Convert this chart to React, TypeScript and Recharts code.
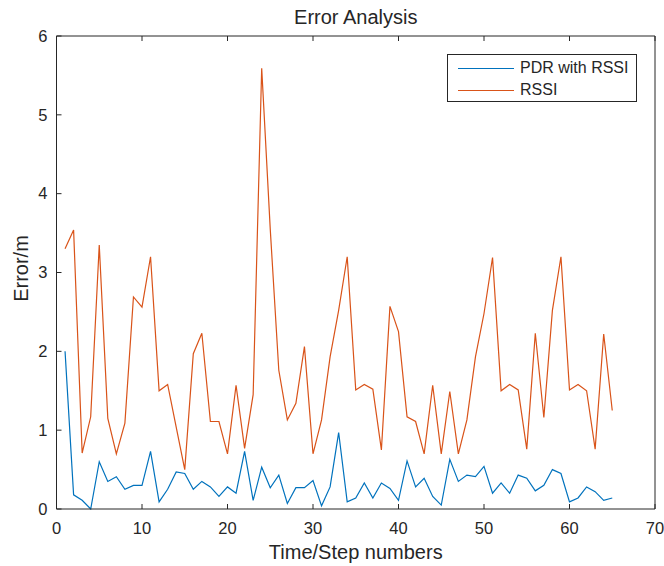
import React from 'react';
import { LineChart, Line, XAxis, YAxis, Legend } from 'recharts';

const steps = Array.from({ length: 65 }, (_, i) => i + 1);

const pdrError = [
  2.0, 0.18, 0.11, 0.0, 0.6, 0.35, 0.41, 0.25, 0.3, 0.3,
  0.73, 0.09, 0.25, 0.47, 0.45, 0.25, 0.35, 0.28, 0.16, 0.28,
  0.2, 0.73, 0.11, 0.53, 0.27, 0.43, 0.07, 0.27, 0.27, 0.36,
  0.04, 0.28, 0.97, 0.09, 0.14, 0.33, 0.14, 0.33, 0.26, 0.11,
  0.61, 0.28, 0.39, 0.16, 0.05, 0.63, 0.35, 0.43, 0.41, 0.54,
  0.2, 0.33, 0.2, 0.43, 0.39, 0.23, 0.3, 0.5, 0.45, 0.09,
  0.14, 0.28, 0.22, 0.11, 0.14,
];

const rssiError = [
  3.3, 3.54, 0.71, 1.17, 3.35, 1.15, 0.7, 1.09, 2.69, 2.56,
  3.2, 1.5, 1.58, 1.04, 0.5, 1.97, 2.23, 1.11, 1.11, 0.7,
  1.57, 0.77, 1.45, 5.59, 3.55, 1.76, 1.13, 1.34, 2.06, 0.7,
  1.13, 1.93, 2.52, 3.2, 1.51, 1.58, 1.52, 0.75, 2.57, 2.25,
  1.17, 1.11, 0.7, 1.57, 0.7, 1.49, 0.7, 1.13, 1.93, 2.48,
  3.19, 1.5, 1.58, 1.51, 0.76, 2.23, 1.16, 2.52, 3.2, 1.51,
  1.58, 1.5, 0.76, 2.22, 1.25,
];

const xTicks = [0, 10, 20, 30, 40, 50, 60, 70];
const yTicks = [0, 1, 2, 3, 4, 5, 6];

const data = steps.map((s, i) => ({ step: s, pdr: pdrError[i], rssi: rssiError[i] }));

const INK = '#262626';
const FONT = '"Liberation Sans", Arial, Helvetica, sans-serif';
const TICK_LEN = 5;

// matlab style: ticks point into the plot box
const BottomTick = (props: any) => {
  const { x, y, payload } = props;
  return (
    <g>
      <line x1={x} x2={x} y1={y} y2={y - TICK_LEN} stroke={INK} />
      <text x={x} y={y + 25} textAnchor="middle" fill={INK} fontSize={16.5} fontFamily={FONT}>
        {payload.value}
      </text>
    </g>
  );
};

const TopTick = (props: any) => {
  const { x, y } = props;
  return <line x1={x} x2={x} y1={y} y2={y + TICK_LEN} stroke={INK} />;
};

const LeftTick = (props: any) => {
  const { x, y, payload } = props;
  return (
    <g>
      <line x1={x} x2={x + TICK_LEN} y1={y} y2={y} stroke={INK} />
      <text x={x - 9} y={y} dy="0.35em" textAnchor="end" fill={INK} fontSize={16.5} fontFamily={FONT}>
        {payload.value}
      </text>
    </g>
  );
};

const RightTick = (props: any) => {
  const { x, y } = props;
  return <line x1={x} x2={x - TICK_LEN} y1={y} y2={y} stroke={INK} />;
};

const LegendBox = (props: any) => {
  const items = props.payload || [];
  return (
    <div
      style={{
        width: 190,
        height: 48,
        boxSizing: 'border-box',
        border: `1px solid ${INK}`,
        background: '#fff',
        paddingTop: 2,
        fontFamily: FONT,
        fontSize: 16,
        color: INK,
      }}
    >
      {items.map((it: any) => (
        <div key={it.value} style={{ display: 'flex', alignItems: 'center', height: 22 }}>
          <span style={{ display: 'inline-block', width: 56, height: 0, borderTop: `1.2px solid ${it.color}`, marginLeft: 10, marginRight: 6 }} />
          <span>{it.value}</span>
        </div>
      ))}
    </div>
  );
};

export default function App() {
  return (
    <div style={{ position: 'absolute', left: 0, top: 0, width: 664, height: 566, background: '#fff' }}>
      <LineChart width={664} height={566} data={data} margin={{ top: 35, right: 8, bottom: 0, left: 0 }}>
        <XAxis
          dataKey="step"
          type="number"
          domain={[0, 70]}
          ticks={xTicks}
          interval={0}
          height={57}
          tickSize={0}
          tickMargin={0}
          tickLine={false}
          axisLine={{ stroke: INK }}
          tick={<BottomTick />}
          label={(p: any) => {
            const vb = p.viewBox;
            return (
              <text x={vb.x + vb.width / 2} y={vb.y + 50} textAnchor="middle" fill={INK} fontSize={20} fontFamily={FONT}>
                Time/Step numbers
              </text>
            );
          }}
        />
        <XAxis
          xAxisId="top"
          orientation="top"
          dataKey="step"
          type="number"
          domain={[0, 70]}
          ticks={xTicks}
          interval={0}
          height={1}
          tickSize={0}
          tickMargin={0}
          tickLine={false}
          axisLine={{ stroke: INK }}
          tick={<TopTick />}
          label={(p: any) => {
            const vb = p.viewBox;
            return (
              <text x={vb.x + vb.width / 2} y={vb.y + vb.height - 12} textAnchor="middle" fill={INK} fontSize={20} fontFamily={FONT}>
                Error Analysis
              </text>
            );
          }}
        />
        <YAxis
          type="number"
          domain={[0, 6]}
          ticks={yTicks}
          interval={0}
          width={56.5}
          tickSize={0}
          tickMargin={0}
          tickLine={false}
          axisLine={{ stroke: INK }}
          tick={<LeftTick />}
          label={(p: any) => {
            const vb = p.viewBox;
            const cx = 21;
            const cy = vb.y + vb.height / 2 - 4;
            return (
              <text x={cx} y={cy} transform={`rotate(-90 ${cx} ${cy})`} dy="0.35em" textAnchor="middle" fill={INK} fontSize={20} fontFamily={FONT}>
                Error/m
              </text>
            );
          }}
        />
        <YAxis
          yAxisId="right"
          orientation="right"
          type="number"
          domain={[0, 6]}
          ticks={yTicks}
          interval={0}
          width={1}
          tickSize={0}
          tickMargin={0}
          tickLine={false}
          axisLine={{ stroke: INK }}
          tick={<RightTick />}
        />
        <Line
          type="linear"
          dataKey="pdr"
          name="PDR with RSSI"
          stroke="#0072BD"
          strokeWidth={1.2}
          dot={false}
          isAnimationActive={false}
        />
        <Line
          type="linear"
          dataKey="rssi"
          name="RSSI"
          stroke="#D95319"
          strokeWidth={1.2}
          dot={false}
          isAnimationActive={false}
        />
        <Legend
          layout="vertical"
          align="center"
          verticalAlign="middle"
          wrapperStyle={{ left: 447, top: 54, width: 190 }}
          content={<LegendBox />}
        />
      </LineChart>
    </div>
  );
}
